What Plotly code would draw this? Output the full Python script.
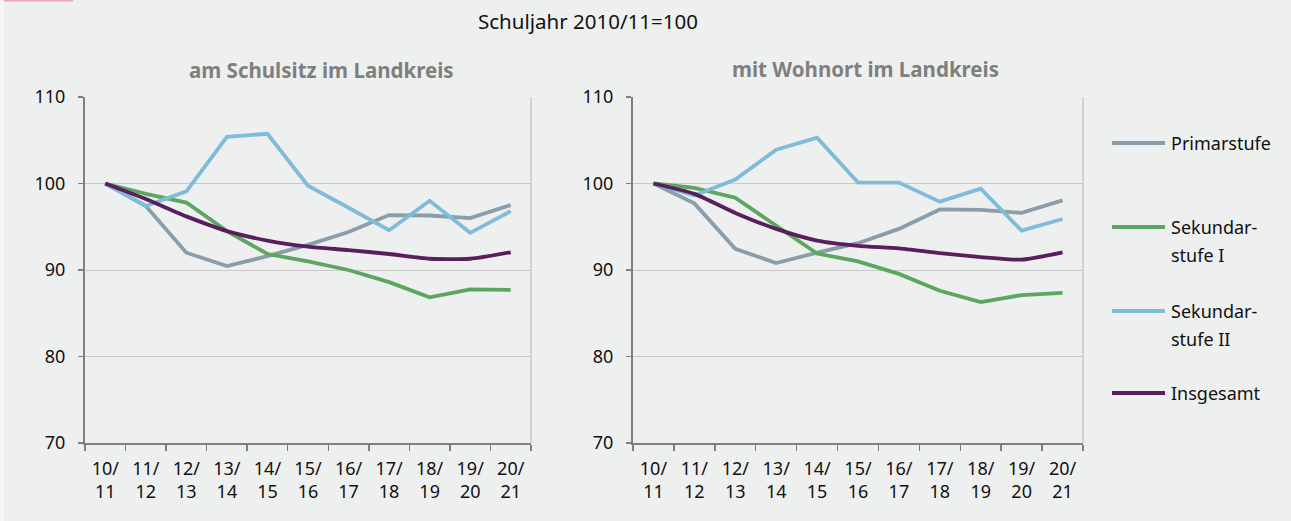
import plotly.graph_objects as go

W, H = 1291, 521

years = ["10/11", "11/12", "12/13", "13/14", "14/15", "15/16",
         "16/17", "17/18", "18/19", "19/20", "20/21"]
year_labels = ["10/<br>11", "11/<br>12", "12/<br>13", "13/<br>14", "14/<br>15", "15/<br>16",
               "16/<br>17", "17/<br>18", "18/<br>19", "19/<br>20", "20/<br>21"]

series_names = ["Primarstufe", "Sekundarstufe I", "Sekundarstufe II", "Insgesamt"]
legend_lines = [["Primarstufe"], ["Sekundar-", "stufe I"], ["Sekundar-", "stufe II"], ["Insgesamt"]]

# am Schulsitz im Landkreis
schulsitz_primar = [100, 97.4, 92.0, 90.45, 91.6, 92.9, 94.4, 96.35, 96.3, 96.0, 97.5]
schulsitz_sek1 = [100, 98.8, 97.8, 94.5, 91.85, 91.0, 90.0, 88.6, 86.85, 87.75, 87.7]
schulsitz_sek2 = [100, 97.4, 99.1, 105.4, 105.75, 99.75, 97.2, 94.6, 98.0, 94.3, 96.8]
schulsitz_insg = [100, 98.2, 96.2, 94.5, 93.4, 92.7, 92.3, 91.85, 91.3, 91.3, 92.05]

# mit Wohnort im Landkreis
wohnort_primar = [100, 97.7, 92.45, 90.8, 92.0, 93.1, 94.75, 97.0, 96.95, 96.6, 98.05]
wohnort_sek1 = [100, 99.5, 98.35, 95.1, 91.9, 91.0, 89.55, 87.6, 86.3, 87.1, 87.35]
wohnort_sek2 = [100, 98.6, 100.45, 103.9, 105.3, 100.1, 100.1, 97.9, 99.4, 94.55, 95.9]
wohnort_insg = [100, 98.8, 96.6, 94.75, 93.4, 92.8, 92.5, 91.95, 91.5, 91.2, 92.05]

y_ticks = [70, 80, 90, 100, 110]

colors = ["#8A9DAB", "#5DA660", "#7FBCD9", "#5A1D5E"]
FONT = "Noto Sans"
BG = "#EEF0EF"

fig = go.Figure()

panels = [
    ("x", "y", [schulsitz_primar, schulsitz_sek1, schulsitz_sek2, schulsitz_insg]),
    ("x2", "y2", [wohnort_primar, wohnort_sek1, wohnort_sek2, wohnort_insg]),
]
for xa, ya, data in panels:
    for name, vals, col in zip(series_names, data, colors):
        fig.add_trace(go.Scatter(
            x=years, y=vals, name=name, mode="lines", xaxis=xa, yaxis=ya,
            line=dict(color=col, width=3.8,
                      shape="spline" if name == "Insgesamt" else "linear",
                      smoothing=0.6 if name == "Insgesamt" else None),
            showlegend=False, hoverinfo="x+y+name"))

def px_x(p):
    return p / W

def px_y(p):
    return 1 - p / H

xdoms = [[px_x(85), px_x(531)], [px_x(633), px_x(1083)]]
ydom = [px_y(443), px_y(97)]

axis_common_x = dict(
    type="category", categoryorder="array", categoryarray=years,
    tickmode="array", tickvals=years, ticktext=year_labels,
    tickson="boundaries", ticks="outside", ticklen=6, tickwidth=1.5, tickcolor="#808080",
    showline=True, linecolor="#808080", linewidth=2, showgrid=False,
    range=[-0.5, 10.5], tickfont=dict(family=FONT, size=18, color="#111111"),
    ticklabelstandoff=8, automargin=False, fixedrange=True,
)
axis_common_y = dict(
    range=[70, 110], tickvals=y_ticks, ticks="outside", ticklen=5, tickwidth=1.5,
    tickcolor="#808080", showline=True, linecolor="#808080", linewidth=2,
    showgrid=True, gridcolor="#C8C8C8", gridwidth=1, zeroline=False,
    tickfont=dict(family=FONT, size=18, color="#111111"), ticklabelstandoff=9,
    automargin=False, fixedrange=True,
)

fig.update_layout(
    width=W, height=H, margin=dict(l=0, r=0, t=0, b=0, autoexpand=False),
    paper_bgcolor=BG, plot_bgcolor=BG,
    xaxis=dict(domain=xdoms[0], anchor="y", **axis_common_x),
    xaxis2=dict(domain=xdoms[1], anchor="y2", **axis_common_x),
    yaxis=dict(domain=ydom, anchor="x", **axis_common_y),
    yaxis2=dict(domain=ydom, anchor="x2", **axis_common_y),
    showlegend=False,
)

shapes = []
# light right border of each plot area
for xr, yr in [("x domain", "y domain"), ("x2 domain", "y2 domain")]:
    shapes.append(dict(type="line", xref=xr, yref=yr, x0=1, x1=1, y0=0, y1=1,
                       line=dict(color="#C8C8C8", width=1.5), layer="below"))
# page decoration
shapes.append(dict(type="rect", xref="paper", yref="paper", x0=0, x1=px_x(4), y0=0, y1=1,
                   fillcolor="#F7F7F7", line=dict(width=0), layer="below"))
shapes.append(dict(type="rect", xref="paper", yref="paper", x0=px_x(4), x1=px_x(73),
                   y0=px_y(1.5), y1=1, fillcolor="#E9A3B8", line=dict(width=0)))

annotations = [
    dict(text="Schuljahr 2010/11=100", x=px_x(588), y=px_y(21), xref="paper", yref="paper",
         xanchor="center", yanchor="middle",
         showarrow=False, font=dict(family=FONT, size=20.5, color="#111111")),
    dict(text="<b>am Schulsitz im Landkreis</b>", x=px_x(321), y=px_y(70), xref="paper",
         yref="paper", xanchor="center", yanchor="middle",
         showarrow=False, font=dict(family=FONT, size=20.5, color="#7F7F7F")),
    dict(text="<b>mit Wohnort im Landkreis</b>", x=px_x(865), y=px_y(69), xref="paper",
         yref="paper", xanchor="center", yanchor="middle",
         showarrow=False, font=dict(family=FONT, size=20.5, color="#7F7F7F")),
]

# manual legend
leg_y = [143, 227, 311, 393]
for lines, col, ly in zip(legend_lines, colors, leg_y):
    shapes.append(dict(type="line", xref="paper", yref="paper", x0=px_x(1112), x1=px_x(1165),
                       y0=px_y(ly), y1=px_y(ly), line=dict(color=col, width=3.8)))
    for k, t in enumerate(lines):
        annotations.append(dict(text=t, x=px_x(1169), y=px_y(ly + 27.5 * k), xref="paper",
                                yref="paper", xanchor="left", yanchor="middle",
                                showarrow=False,
                                font=dict(family=FONT, size=18, color="#111111")))

fig.update_layout(shapes=shapes, annotations=annotations)

fig.write_html("out.html", config={"displayModeBar": False, "staticPlot": True},
               post_script="document.body.style.margin='0';document.body.style.overflow='hidden';")
